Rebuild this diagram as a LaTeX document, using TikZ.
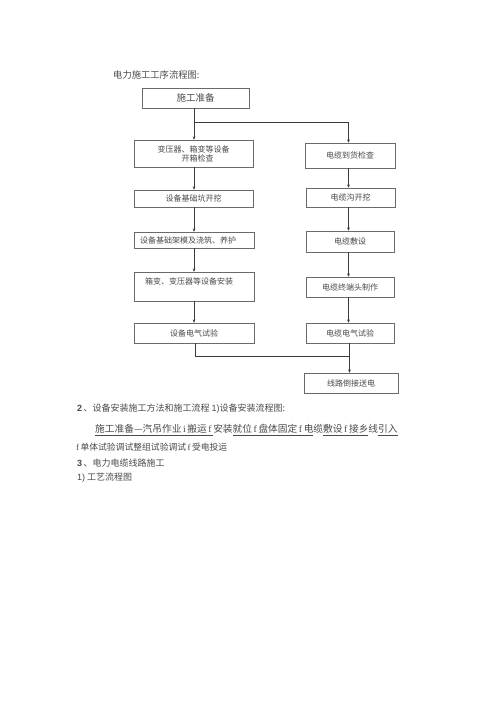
\documentclass[tikz,border=0pt]{standalone}
\usepackage{fontspec}
\newfontfamily\cjk{Noto Sans CJK SC}
\newfontfamily\lsans{Liberation Sans}
\newfontfamily\lserif{Liberation Serif}
\usetikzlibrary{arrows.meta}
\definecolor{boxgray}{HTML}{6A6A6A}
\definecolor{linegray}{HTML}{3A3A3A}
\definecolor{txtgray}{HTML}{4A4A4A}
\newcommand{\lf}{\,{\lserif f}\,}
\newcommand{\li}{\,{\lserif i}\,}
\begin{document}
\begin{tikzpicture}[x=1pt,y=-1pt,
  box/.style={draw=boxgray, line width=0.6pt, inner sep=0pt, text=txtgray,
    font=\cjk\fontsize{8}{10}\selectfont},
  arr/.style={draw=linegray, line width=0.9pt, -{Stealth[length=3.2pt,width=2.8pt]}},
  ln/.style={draw=linegray, line width=0.9pt},
  txt/.style={inner sep=0pt, anchor=west, text=txtgray}]
\useasboundingbox[fill=white] (0,0) rectangle (500,708);

% title
\node[txt, font=\cjk\fontsize{9.3}{11}\selectfont] (title) at (113,75) {电力施工工序流程图:};

% boxes
\node[box, minimum width=107pt, minimum height=20pt, font=\cjk\fontsize{9.5}{11}\selectfont] (prep) at (195.5,98) {施工准备};

\node[box, minimum width=119pt, minimum height=27pt, align=center] (b1) at (193.5,153.5) {变压器、箱变等设备\\[-1pt]\hspace*{8pt}开箱检查};
\node[box, minimum width=119pt, minimum height=17pt] (b2) at (193.5,198.5) {设备基础坑开挖};
\node[box, minimum width=120pt, minimum height=16pt, text width=108pt, inner xsep=6pt, align=left] (b3) at (194,240) {设备基础架模及浇筑、养护};
\node[box, minimum width=120pt, minimum height=29pt] (b4) at (194,286.5) {};
\node[txt, font=\cjk\fontsize{8}{10}\selectfont] (b4t) at (145,281) {箱变、变压器等设备安装};
\node[box, minimum width=120pt, minimum height=20pt, text depth=-2pt] (b5) at (194,333) {设备电气试验};

\node[box, minimum width=90pt, minimum height=25pt] (r1) at (350,155.5) {电缆到货检查};
\node[box, minimum width=89pt, minimum height=19pt] (r2) at (350.5,197.5) {电缆沟开挖};
\node[box, minimum width=88pt, minimum height=21pt] (r3) at (350,241.5) {电缆敷设};
\node[box, minimum width=88pt, minimum height=20pt] (r4) at (350,287) {电缆终端头制作};
\node[box, minimum width=88pt, minimum height=20pt, text depth=-2pt] (r5) at (350,333) {电缆电气试验};
\node[box, minimum width=94pt, minimum height=20pt] (fin) at (351,383) {线路倒接送电};

% connectors
\coordinate (s1) at (194,122);
\coordinate (s2) at (348.5,122);
\coordinate (j1) at (195,356);
\coordinate (j2) at (349.5,356);

\draw[ln] (prep.south -| s1) -- (s1);
\draw[arr] (s1) -- (b1.north -| s1);
\draw[arr] (s1) -- (s2) -- (r1.north -| s2);
\draw[arr] (b1.south -| s1) -- (b2.north -| s1);
\draw[arr] (b2.south -| s1) -- (b3.north -| s1);
\draw[arr] (b3.south -| s1) -- (b4.north -| s1);
\draw[arr] (b4.south -| s1) -- (b5.north -| s1);
\draw[arr] (r1.south -| s2) -- (r2.north -| s2);
\draw[arr] (r2.south -| s2) -- (r3.north -| s2);
\draw[arr] (r3.south -| s2) -- (r4.north -| s2);
\draw[arr] (r4.south -| s2) -- (r5.north -| s2);
\draw[ln] (b5.south -| j1) -- (j1) -- (j2);
\draw[arr] (r5.south -| j2) -- (fin.north -| j2);

% text below
\node[txt, font=\cjk\fontsize{9}{11}\selectfont] (t1) at (77,409) {{\lsans\bfseries 2}\,、设备安装施工方法和施工流程\ {\lsans 1)}设备安装流程图:};
\node[txt, font=\cjk\fontsize{9.7}{12}\selectfont] (t2) at (95,430) {\underline{施工准备—汽吊作业\li 搬运\lf}安装\underline{就位\lf 盘体固定\lf 电}缆\underline{敷设\lf 接乡}线\underline{引入}};
\node[txt, font=\cjk\fontsize{8.8}{10}\selectfont] (t3) at (76,447) {{\lserif f}\,单体试验调试整组试验调试\lf 受电投运};
\node[txt, font=\cjk\fontsize{9}{11}\selectfont] (t4) at (77,463) {{\lsans\bfseries 3}\,、电力电缆线路施工};
\node[txt, font=\cjk\fontsize{9}{11}\selectfont] (t5) at (77,478) {{\lsans 1)}\ 工艺流程图};
\end{tikzpicture}
\end{document}
